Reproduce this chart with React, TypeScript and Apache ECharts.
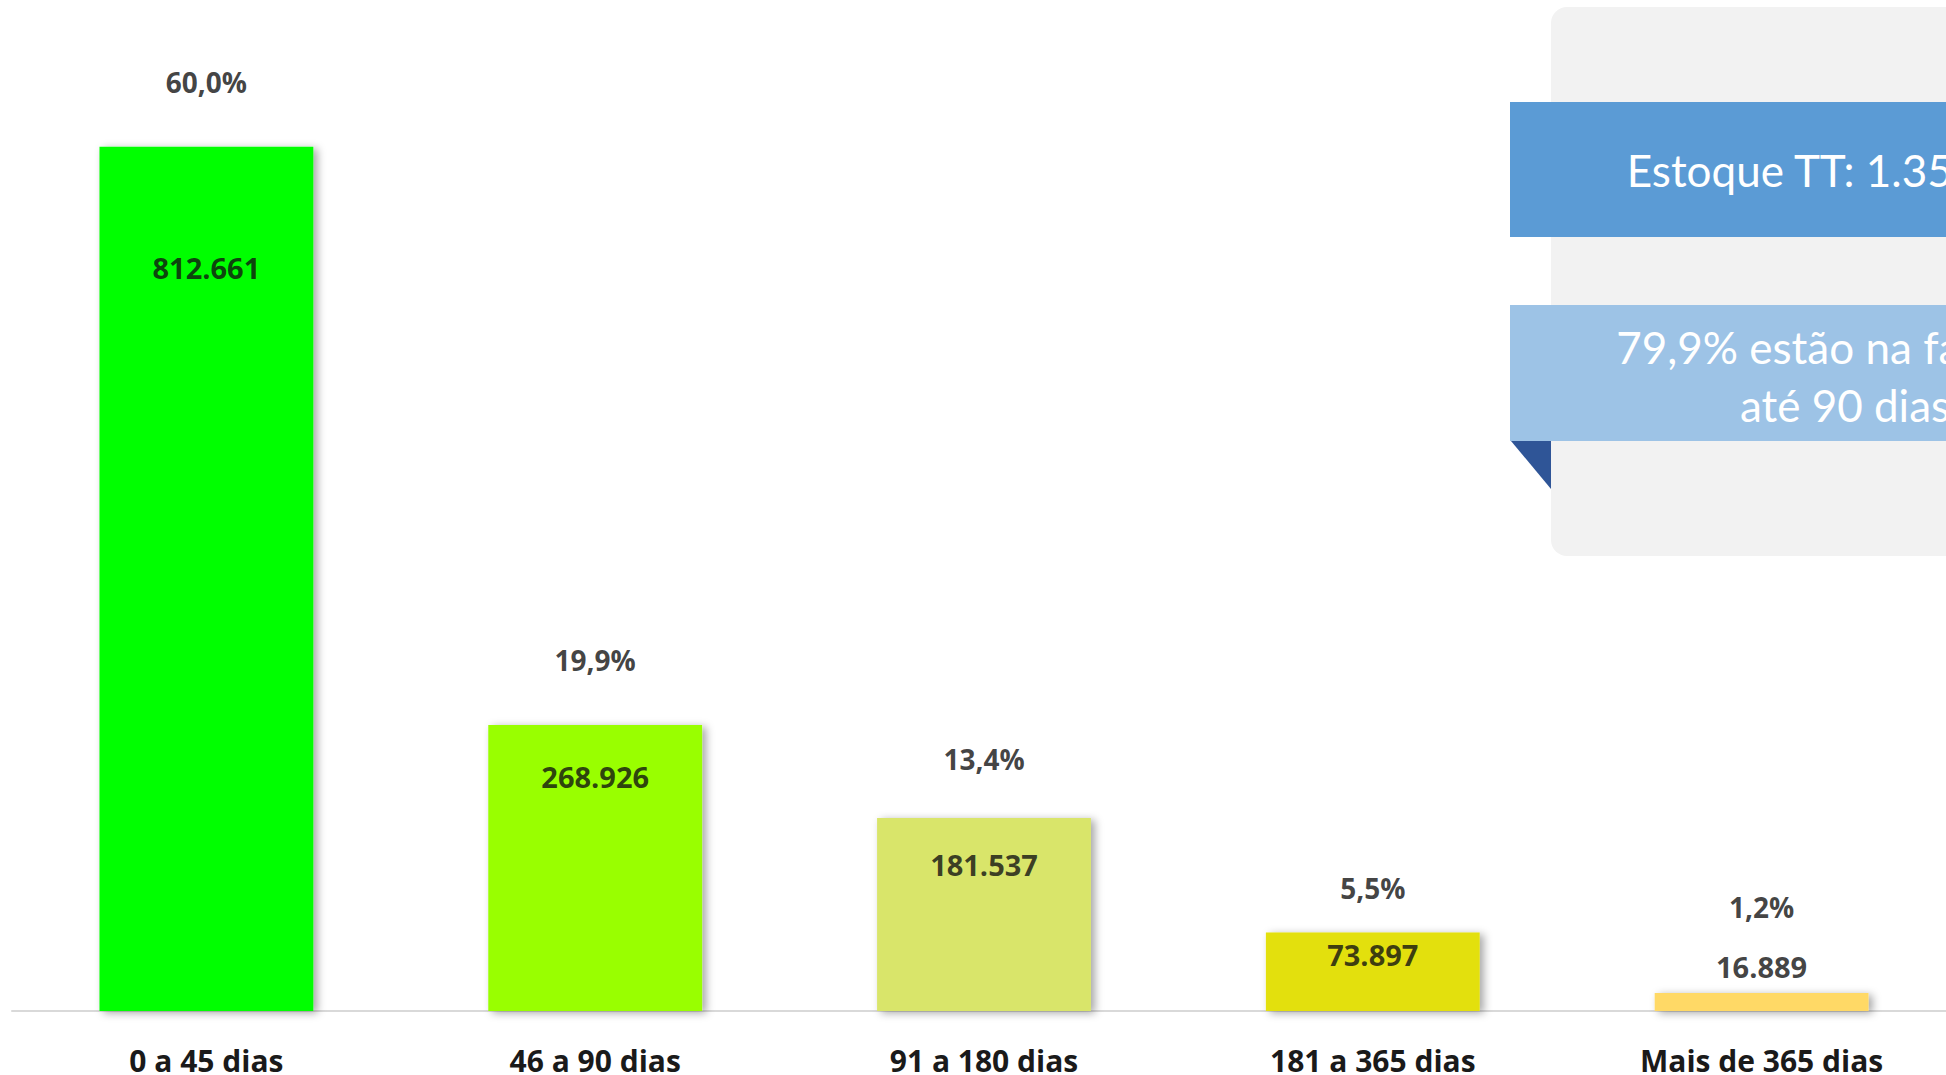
import React, { useEffect, useRef } from "react";
import * as echarts from "echarts";

const categories = ["0 a 45 dias", "46 a 90 dias", "91 a 180 dias", "181 a 365 dias", "Mais de 365 dias"];
const stockValues = [812661, 268926, 181537, 73897, 16889];
const barColors = ["#00FF00", "#99FF00", "#D9E56A", "#E3E00C", "#FFD966"];
// label vertical offsets (px, relative to bar top) – styling only
const pctLabelOffsets = [-65, -65, -59, -44, -86];
const valLabelOffsets = [121, 51, 47, 22, -27];

const total = stockValues.reduce((a, b) => a + b, 0);
const fmtInt = (v: number) => Math.round(v).toString().replace(/\B(?=(\d{3})+(?!\d))/g, ".");
const fmtPct = (v: number) => (v * 100).toFixed(1).replace(".", ",") + "%";
const upTo90 = (stockValues[0] + stockValues[1]) / total;

export default function App() {
  const ref = useRef<HTMLDivElement>(null);
  useEffect(() => {
    if (!ref.current) return;
    const chart = echarts.init(ref.current, undefined, { renderer: "svg" });
    const labelFont = { fontFamily: "Open Sans", fontWeight: 700 as const, color: "#111111" };
    chart.setOption({
      animation: false,
      backgroundColor: "#FFFFFF",
      grid: { left: 12, top: 54, bottom: 64, width: 1944, containLabel: false, outerBoundsMode: "none" },
      xAxis: {
        type: "category",
        data: categories,
        axisLine: { show: true, lineStyle: { color: "#D9D9D9", width: 2 } },
        axisTick: { show: false },
        axisLabel: { margin: 34, fontSize: 30, ...labelFont, color: "#1A1A1A" },
      },
      yAxis: { type: "value", min: 0, max: 900000, show: false, splitLine: { show: false } },
      series: [
        {
          type: "bar",
          barWidth: "55%",
          data: stockValues.map((v, i) => ({
            value: v,
            itemStyle: {
              color: barColors[i],
              shadowColor: "rgba(0,0,0,0.35)",
              shadowBlur: 8,
              shadowOffsetX: 4,
              shadowOffsetY: 2,
            },
          })),
          label: { show: false },
        },
        {
          type: "scatter",
          symbolSize: 1,
          itemStyle: { color: "rgba(0,0,0,0)" },
          data: stockValues.map((v, i) => ({
            value: v,
            label: {
              show: true,
              position: "inside",
              offset: [0, pctLabelOffsets[i]],
              formatter: () => fmtPct(stockValues[i] / total),
              fontSize: 28,
              ...labelFont,
            },
          })),
          z: 5,
        },
        {
          type: "scatter",
          symbolSize: 1,
          itemStyle: { color: "rgba(0,0,0,0)" },
          data: stockValues.map((v, i) => ({
            value: v,
            label: {
              show: true,
              position: "inside",
              offset: [0, valLabelOffsets[i]],
              formatter: () => fmtInt(stockValues[i]),
              fontSize: 29,
              ...labelFont,
            },
          })),
          z: 5,
        },
      ],
      graphic: [
        {
          type: "rect",
          shape: { x: 1551, y: 7, width: 440, height: 549, r: 16 },
          style: { fill: "#F2F2F2" },
          z: 1,
        },
        {
          type: "rect",
          shape: { x: 1510, y: 102, width: 480, height: 135 },
          style: { fill: "#5B9BD5" },
          z: 2,
        },
        {
          type: "rect",
          shape: { x: 1510, y: 305, width: 480, height: 136 },
          style: { fill: "#9DC3E6" },
          z: 2,
        },
        {
          type: "polygon",
          shape: { points: [[1511, 441], [1551, 441], [1551, 489]] },
          style: { fill: "#2F5597" },
          z: 2,
        },
        {
          type: "text",
          x: 1846,
          y: 170,
          style: {
            text: "Estoque TT: " + fmtInt(total),
            fill: "#FFFFFF",
            fontFamily: "Lato",
            fontSize: 44,
            align: "center",
            verticalAlign: "middle",
            textAlign: "center",
            textVerticalAlign: "middle",
          },
          z: 3,
        },
        {
          type: "text",
          x: 1845,
          y: 376,
          style: {
            text: fmtPct(upTo90) + " estão na faixa de\naté 90 dias",
            fill: "#FFFFFF",
            fontFamily: "Lato",
            fontSize: 44,
            lineHeight: 58,
            align: "center",
            verticalAlign: "middle",
            textAlign: "center",
            textVerticalAlign: "middle",
          },
          z: 3,
        },
      ],
    });
    return () => chart.dispose();
  }, []);
  return (
    <div
      ref={ref}
      style={{ position: "fixed", left: 0, top: 0, width: 1946, height: 1075 }}
    />
  );
}
